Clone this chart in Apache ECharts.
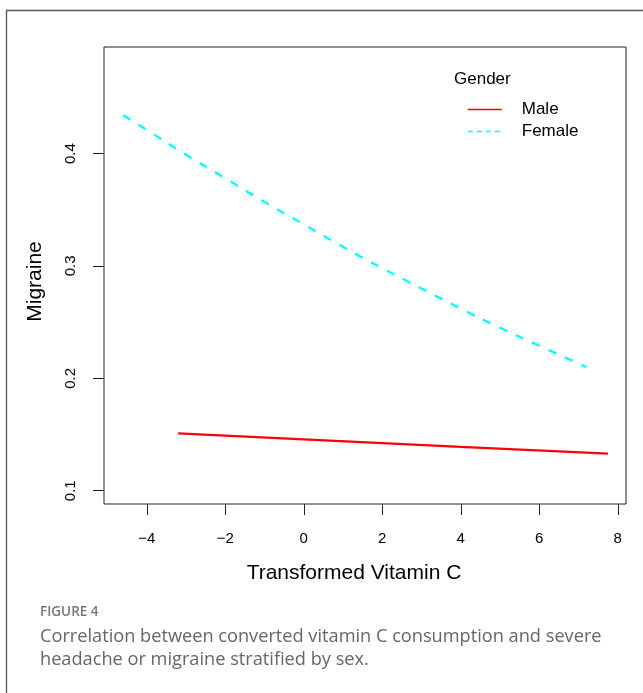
<!DOCTYPE html>
<html>
<head>
<meta charset="utf-8">
<script src="https://cdn.jsdelivr.net/npm/echarts@6/dist/echarts.min.js"></script>
<style>
  html, body { margin: 0; padding: 0; background: #fff; }
  #main { width: 643px; height: 693px; }
</style>
</head>
<body>
<div id="main"></div>
<script>
// values
var maleX = [-3.2, 0, 4, 7.75];
var maleY = [0.151, 0.1457, 0.139, 0.133];
var femaleX = [-4.6, -4, -3, -2, -1, 0, 1, 2, 3, 4, 5, 6, 7.2];
var femaleY = [0.434, 0.421, 0.399, 0.378, 0.357, 0.337, 0.317, 0.298, 0.280, 0.262, 0.245, 0.229, 0.210];
var xTicks = [-4, -2, 0, 2, 4, 6, 8];
var yTicks = [0.1, 0.2, 0.3, 0.4];

function pairs(xs, ys) {
    return xs.map(function (x, i) { return [x, ys[i]]; });
}
function minus(v) {
    return v < 0 ? '\u2212' + Math.abs(v) : String(v);
}

var font = '"Liberation Sans", Arial, sans-serif';
var myChart = echarts.init(document.getElementById('main'));

myChart.setOption({
    animation: false,
    backgroundColor: '#fff',
    grid: {
        left: 104, top: 47, right: 17, bottom: 189,
        show: true, borderColor: '#222', borderWidth: 1
    },
    xAxis: {
        type: 'value',
        min: -5.09, max: 8.21,
        splitLine: { show: false },
        axisLine: { show: false, onZero: false },
        axisTick: { show: true, length: 11, customValues: xTicks, lineStyle: { color: '#222' } },
        axisLabel: {
            customValues: xTicks, margin: 27,
            fontFamily: font, fontSize: 15, color: '#000',
            formatter: minus
        },
        name: 'Transformed Vitamin C',
        nameLocation: 'middle', nameGap: 59,
        nameTextStyle: { fontFamily: font, fontSize: 21, color: '#000', padding: [0, 22, 0, 0] }
    },
    yAxis: {
        type: 'value',
        min: 0.0882, max: 0.4948,
        splitLine: { show: false },
        axisLine: { show: false, onZero: false },
        axisTick: { show: true, length: 11, customValues: yTicks, lineStyle: { color: '#222' } },
        axisLabel: {
            customValues: yTicks, margin: 26, rotate: 90,
            fontFamily: font, fontSize: 15, color: '#000'
        },
        name: 'Migraine',
        nameLocation: 'middle', nameGap: 58,
        nameTextStyle: { fontFamily: font, fontSize: 21, color: '#000', padding: [0, 12, 0, 0] }
    },
    legend: {
        orient: 'vertical',
        left: 462, top: 96,
        itemWidth: 34, itemHeight: 14, itemGap: 5,
        lineStyle: { width: 1.5 },
        itemStyle: { color: 'rgba(0,0,0,0)', borderWidth: 0, opacity: 0 },
        textStyle: { fontFamily: font, fontSize: 17, color: '#000', padding: [0, 0, 0, 15] },
        data: [
            { name: 'Male' },
            { name: 'Female', lineStyle: { type: [5, 4] } }
        ]
    },
    series: [
        {
            name: 'Male', type: 'line', symbol: 'none',
            data: pairs(maleX, maleY),
            lineStyle: { color: '#ff0000', width: 2.3 },
            itemStyle: { color: '#ff0000' }
        },
        {
            name: 'Female', type: 'line', symbol: 'none', smooth: true,
            data: pairs(femaleX, femaleY),
            lineStyle: { color: '#00ffff', width: 2.3, type: [8.5, 9.5] },
            itemStyle: { color: '#00ffff' }
        }
    ],
    graphic: [
        {
            type: 'rect', silent: true, z: -1,
            shape: { x: 6.5, y: 10.5, width: 700, height: 720 },
            style: { fill: null, stroke: '#555', lineWidth: 1.3 }
        },
        {
            type: 'text', left: 454, top: 71,
            style: { text: 'Gender', font: '17px ' + font, fill: '#000' }
        },
        {
            type: 'text', left: 40, top: 605,
            style: { text: 'FIGURE 4', font: '600 13.5px "Open Sans", sans-serif', fill: '#777' }
        },
        {
            type: 'text', left: 40, top: 625,
            style: {
                text: 'Correlation between converted vitamin C consumption and severe\nheadache or migraine stratified by sex.',
                font: '18.2px "Open Sans", sans-serif', fill: '#666', lineHeight: 23
            }
        }
    ]
});
</script>
</body>
</html>
